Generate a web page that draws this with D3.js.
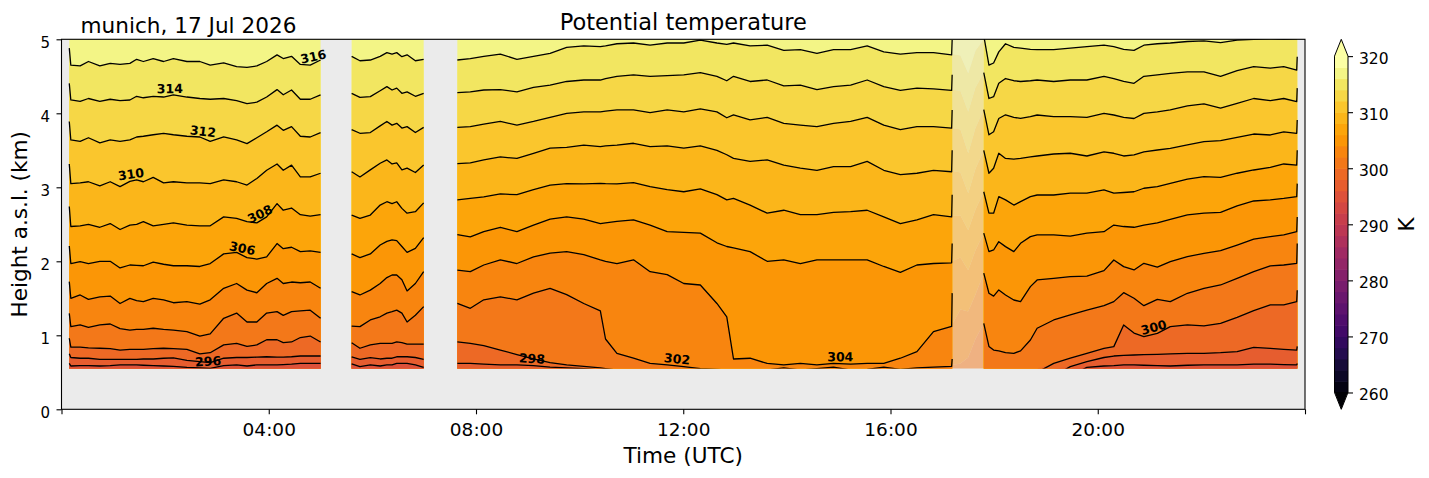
<!DOCTYPE html>
<html><head><meta charset="utf-8">
<script src="https://cdn.jsdelivr.net/npm/d3@7"></script>
<style>
body{margin:0;background:#fff}
svg{display:block}
text{font-family:"DejaVu Sans",sans-serif;fill:#000}
</style>
</head><body>
<svg id="chart" width="1429" height="478"></svg>
<script>
// ================= DATA =================
const station = "munich";
const dateLabel = "17 Jul 2026";
const titleText = "Potential temperature";
const xLabel = "Time (UTC)";
const yLabel = "Height a.s.l. (km)";
const unitLabel = "K";

// contour levels (K) whose isentrope heights (km) are listed below
const levels = [296, 298, 300, 302, 304, 306, 308, 310, 312, 314, 316];
// colour levels of the filled contours and colour bar
const cbarLevels = [260,262,264,266,268,270,272,274,276,278,280,282,284,286,288,290,292,294,296,298,300,302,304,306,308,310,312,314,316,318,320];
const cbarTicks = [260, 270, 280, 290, 300, 310, 320];
const xTickHours = [0, 4, 8, 12, 16, 20, 24];
const yTicks = [0, 1, 2, 3, 4, 5];
const gateBottom = 0.55;   // lowest valid retrieval height (km)

// profile blocks: number of time samples per block, and quality flag
const segLengths = [27, 11, 34, 5, 28];
const segFlagged = [false, false, false, true, false];

// sample times (hours UTC)
const times = [
  0.15,0.18,0.36,0.52,0.74,0.94,1.13,1.32,1.45,1.58,1.77,1.97,2.16,2.42,2.67,2.87,3.13,3.38,3.58,3.77,3.96,4.16,4.28,4.44,4.61,4.80,5.00,
  5.60,5.76,5.96,6.15,6.28,6.38,6.47,6.57,6.67,6.83,6.99,
  7.64,7.89,8.15,8.47,8.79,9.11,9.43,9.75,10.08,10.40,10.50,10.72,11.04,11.36,11.69,12.01,12.33,12.65,12.84,12.97,13.29,13.62,13.94,14.26,14.58,14.90,15.23,15.55,15.87,16.19,16.51,16.83,17.18,17.19,
  17.19,17.35,17.50,17.64,17.80,
  17.80,17.90,17.99,18.09,18.22,18.38,18.51,18.70,18.83,19.15,19.47,19.79,20.12,20.31,20.50,20.70,20.89,21.15,21.40,21.73,22.05,22.37,22.69,23.01,23.33,23.59,23.84,23.85
];

// isentrope heights (km); null = below the lowest gate
const h316 = [
  4.88,4.65,4.64,4.70,4.64,4.675,4.66,4.675,4.73,4.70,4.74,4.70,4.74,4.70,4.70,4.65,4.68,4.63,4.62,4.64,4.70,4.79,4.74,4.77,4.66,4.65,4.72,
  4.77,4.71,4.72,4.77,4.82,4.80,4.82,4.765,4.79,4.71,4.73,
  4.72,4.74,4.77,4.80,4.73,4.77,4.81,4.89,4.91,4.90,4.91,4.94,4.95,4.92,4.95,4.95,4.99,4.95,4.93,4.95,4.91,4.92,4.85,4.86,4.81,4.86,4.86,4.91,4.83,4.80,4.82,4.82,4.79,4.99,
  4.80,4.78,4.54,4.85,5.05,
  5.05,4.65,4.68,4.83,4.94,4.89,4.88,4.865,4.86,4.86,4.88,4.90,4.92,4.90,4.865,4.85,4.92,4.94,4.95,4.97,4.98,4.955,4.99,5.0,5.01,5.0,5.01,5.1
];
const h314 = [
  4.405,4.18,4.16,4.20,4.16,4.19,4.17,4.18,4.23,4.21,4.23,4.22,4.25,4.22,4.20,4.19,4.20,4.17,4.13,4.15,4.22,4.32,4.25,4.315,4.19,4.19,4.25,
  4.27,4.215,4.225,4.305,4.36,4.315,4.34,4.27,4.29,4.23,4.27,
  4.28,4.29,4.315,4.32,4.29,4.35,4.38,4.43,4.45,4.45,4.47,4.50,4.52,4.50,4.51,4.52,4.55,4.50,4.44,4.50,4.43,4.45,4.37,4.38,4.32,4.36,4.38,4.45,4.36,4.31,4.34,4.33,4.31,4.52,
  4.32,4.30,4.02,4.35,4.55,
  4.55,4.20,4.225,4.405,4.47,4.44,4.43,4.44,4.45,4.43,4.45,4.45,4.50,4.47,4.43,4.405,4.50,4.52,4.54,4.56,4.56,4.50,4.576,4.63,4.61,4.63,4.585,4.765
];
const h312 = [
  3.89,3.64,3.62,3.67,3.60,3.64,3.62,3.64,3.68,3.69,3.71,3.73,3.71,3.69,3.68,3.62,3.68,3.64,3.59,3.67,3.75,3.84,3.77,3.82,3.69,3.68,3.74,
  3.78,3.73,3.74,3.83,3.89,3.84,3.865,3.80,3.82,3.74,3.81,
  3.81,3.82,3.855,3.89,3.84,3.89,3.946,4.0,4.02,4.02,4.03,4.045,4.045,4.01,4.045,4.02,4.06,4.02,3.94,3.98,3.91,3.946,3.865,3.84,3.82,3.865,3.89,3.946,3.84,3.78,3.82,3.82,3.80,4.045,
  3.80,3.78,3.46,3.80,4.05,
  4.05,3.71,3.75,3.93,3.98,3.946,3.93,3.955,3.977,3.955,3.955,3.946,4.0,3.977,3.946,3.93,4.0,4.02,4.045,4.10,4.126,4.07,4.135,4.20,4.17,4.20,4.157,4.34
];
const h310 = [
  3.315,3.05,3.06,3.075,3.02,3.075,3.01,3.08,3.10,3.075,3.135,3.06,3.075,3.06,3.06,3.05,3.10,3.075,3.03,3.12,3.23,3.315,3.23,3.30,3.14,3.14,3.19,
  3.21,3.14,3.235,3.325,3.37,3.315,3.33,3.235,3.26,3.20,3.30,
  3.32,3.33,3.37,3.41,3.39,3.46,3.53,3.54,3.57,3.55,3.56,3.57,3.595,3.55,3.56,3.53,3.56,3.50,3.44,3.39,3.35,3.37,3.30,3.26,3.23,3.28,3.28,3.35,3.23,3.17,3.19,3.23,3.21,3.50,
  3.22,3.20,2.92,3.25,3.50,
  3.50,3.19,3.257,3.46,3.39,3.38,3.39,3.41,3.423,3.45,3.46,3.423,3.48,3.46,3.423,3.437,3.48,3.504,3.527,3.572,3.617,3.63,3.675,3.72,3.707,3.75,3.73,3.91
];
const h308 = [
  2.74,2.47,2.48,2.50,2.46,2.51,2.43,2.49,2.50,2.535,2.48,2.50,2.52,2.49,2.48,2.48,2.60,2.58,2.535,2.52,2.60,2.78,2.69,2.72,2.63,2.61,2.63,
  2.625,2.58,2.625,2.76,2.805,2.78,2.805,2.715,2.65,2.67,2.79,
  2.83,2.85,2.87,2.91,2.90,2.97,3.03,3.05,3.045,3.054,3.05,3.045,3.063,3.01,2.97,2.94,2.98,2.90,2.83,2.85,2.76,2.65,2.69,2.63,2.63,2.66,2.67,2.69,2.60,2.51,2.56,2.63,2.60,2.90,
  2.62,2.62,2.42,2.70,2.94,
  2.94,2.65,2.65,2.874,2.83,2.76,2.806,2.874,2.896,2.896,2.92,2.92,2.964,2.92,2.93,2.94,2.987,3.01,3.054,3.11,3.144,3.135,3.19,3.234,3.27,3.315,3.30,3.50
];
const h306 = [
  2.207,1.97,1.995,1.97,2.00,2.00,1.91,1.95,1.945,1.94,1.99,1.96,1.94,1.94,1.93,1.97,2.10,2.12,2.05,2.03,2.06,2.24,2.17,2.19,2.13,2.14,2.12,
  2.10,2.05,2.10,2.22,2.27,2.29,2.28,2.20,2.12,2.175,2.32,
  2.36,2.33,2.40,2.46,2.40,2.49,2.57,2.60,2.57,2.51,2.52,2.54,2.56,2.49,2.40,2.39,2.38,2.25,2.20,2.18,2.13,2.00,2.02,1.97,2.02,2.02,2.02,2.02,1.93,1.85,1.95,1.97,1.98,2.24,
  2.00,2.05,1.88,2.15,2.38,
  2.38,2.13,2.153,2.265,2.198,2.13,2.243,2.333,2.356,2.356,2.34,2.38,2.40,2.49,2.47,2.46,2.49,2.52,2.567,2.626,2.65,2.66,2.75,2.815,2.83,2.85,2.874,3.05
];
const h304 = [
  1.725,1.50,1.545,1.486,1.52,1.53,1.43,1.50,1.47,1.455,1.50,1.48,1.44,1.455,1.42,1.48,1.635,1.70,1.61,1.575,1.70,1.77,1.70,1.72,1.71,1.72,1.635,
  1.59,1.545,1.61,1.70,1.78,1.815,1.815,1.75,1.60,1.70,1.86,
  1.88,1.86,1.95,2.02,1.97,2.06,2.11,2.13,2.09,2.02,2.0,1.97,2.02,1.86,1.82,1.70,1.68,1.43,1.25,0.68,0.69,0.62,0.60,0.62,0.60,0.62,0.61,0.62,0.62,0.69,0.78,1.05,1.12,1.57,
  1.15,1.35,1.32,1.55,1.84,
  1.84,1.568,1.53,1.613,1.545,1.477,1.455,1.658,1.748,1.77,1.793,1.80,1.874,2.018,1.928,1.883,1.973,1.92,1.995,2.063,2.108,2.144,2.22,2.30,2.333,2.356,2.40,2.60
];
const h302 = [
  1.297,1.117,1.14,1.108,1.14,1.153,1.09,1.07,1.08,1.08,1.095,1.08,1.07,1.05,0.99,1.02,1.23,1.30,1.18,1.18,1.30,1.32,1.27,1.32,1.33,1.34,1.23,
  1.125,1.117,1.207,1.25,1.30,1.32,1.34,1.30,1.18,1.27,1.387,
  1.43,1.365,1.48,1.52,1.48,1.57,1.635,1.55,1.43,1.33,0.95,0.757,0.69,0.62,0.60,0.577,0.55,0.54,0.53,0.53,0.52,0.53,0.56,0.53,0.55,0.57,0.53,0.54,0.57,0.54,0.56,0.57,0.58,0.68,
  0.60,0.62,0.70,0.95,1.16,
  1.16,0.85,0.80,0.79,0.766,0.757,0.79,0.937,1.095,1.207,1.275,1.34,1.40,1.455,1.576,1.50,1.40,1.486,1.455,1.568,1.635,1.68,1.77,1.86,1.937,1.95,1.973,2.24
];
const h300 = [
  0.96,0.84,0.84,0.83,0.825,0.82,0.80,0.81,0.81,0.81,0.82,0.825,0.82,0.81,0.75,0.765,0.87,0.89,0.85,0.87,0.94,0.94,0.90,0.91,0.97,0.99,0.91,
  0.90,0.825,0.87,0.89,0.89,0.89,0.91,0.90,0.88,0.88,0.88,
  0.91,0.89,0.86,0.80,0.74,0.68,0.63,0.60,0.58,0.56,0.55,0.53,0.50,0.48,null,null,null,null,null,null,null,null,null,null,null,null,null,null,null,null,null,null,null,null,
  null,null,null,null,null,
  null,null,null,null,null,null,null,null,0.50,0.62,0.69,0.757,0.824,0.847,1.14,1.03,0.982,1.027,1.117,1.14,1.126,1.162,1.243,1.333,1.41,1.41,1.455,1.61
];
const h298 = [
  0.75,0.70,0.69,0.69,0.676,0.676,0.676,0.676,0.676,0.68,0.68,0.69,0.695,0.66,0.645,0.63,0.69,0.70,0.70,0.705,0.71,0.705,0.705,0.71,0.72,0.72,0.72,
  0.71,0.676,0.697,0.68,0.69,0.69,0.71,0.71,0.71,0.70,0.676,
  0.62,0.62,0.61,0.60,0.60,0.59,0.57,0.56,0.55,0.53,0.52,0.50,null,null,null,null,null,null,null,null,null,null,null,null,null,null,null,null,null,null,null,null,null,null,
  null,null,null,null,null,
  null,null,null,null,null,null,null,null,null,null,0.576,0.644,0.70,0.72,0.73,0.734,0.738,0.743,0.748,0.757,0.757,0.766,0.78,0.838,0.824,0.81,0.80,0.85
];
const h296 = [
  0.62,0.585,0.59,0.59,0.585,0.59,0.60,0.60,0.60,0.595,0.59,0.585,0.58,0.567,0.56,0.554,0.59,0.60,0.585,0.60,0.60,0.60,0.605,0.61,0.62,0.62,0.62,
  0.614,0.577,0.60,0.585,0.60,0.60,0.62,0.62,0.62,0.60,0.567,
  null,null,null,null,null,null,null,null,null,null,null,null,null,null,null,null,null,null,null,null,null,null,null,null,null,null,null,null,null,null,null,null,null,null,
  null,null,null,null,null,
  null,null,null,null,null,null,null,null,null,null,null,0.567,0.585,0.59,0.60,0.60,0.595,0.59,0.585,0.595,0.60,0.60,0.60,0.61,0.61,0.605,0.60,0.62
];

// inline contour labels: [level, time (h)]
const contourLabels = [[316,4.86],[314,2.09],[312,2.73],[310,1.34],[308,3.83],[306,3.49],[296,2.83],[298,9.08],[302,11.88],[304,15.03],[300,21.08]];

// ================= DRAWING =================
const levelSeries = {296:h296,298:h298,300:h300,302:h302,304:h304,306:h306,308:h308,310:h310,312:h312,314:h314,316:h316};
const svg = d3.select("#chart");
const X0 = 61.5, X1 = 1305, Y0 = 409.3, Y1 = 39.3;
const x = d3.scaleLinear().domain([0, 24]).range([X0, X1]);
const y = d3.scaleLinear().domain([0, 5]).range([Y0, Y1]);
const cMin = cbarLevels[0], cMax = cbarLevels[cbarLevels.length - 1];
const step = cbarLevels[1] - cbarLevels[0];
// colour of the filled band whose upper boundary is `upper`
const bandColor = upper => d3.interpolateInferno(Math.max(0, Math.min(1, (upper - cMin) / (cMax - cMin))));
const hTop = y.domain()[1];

let s0 = 0;
const segments = segLengths.map((n, k) => { const idx = d3.range(s0, s0 + n); s0 += n; return {idx, flagged: segFlagged[k]}; });
const hVal = (L, i) => { const v = levelSeries[L][i]; return v == null ? gateBottom - 0.1 : v; };
const clampH = v => Math.max(gateBottom, Math.min(hTop, v));

const defs = svg.append("defs");
defs.append("clipPath").attr("id", "lineClip").append("rect")
  .attr("x", X0).attr("y", y(hTop)).attr("width", X1 - X0).attr("height", y(gateBottom) - y(hTop));

// axes background
svg.append("rect").attr("x", X0).attr("y", Y1).attr("width", X1 - X0).attr("height", Y0 - Y1).attr("fill", "#ebebeb");

const fillG = svg.append("g");
segments.forEach(seg => {
  const ax = i => x(times[i]);
  if (!seg.flagged) {
    fillG.append("path").datum(seg.idx)
      .attr("d", d3.area().x(ax).y0(y(gateBottom)).y1(y(hTop)))
      .attr("fill", bandColor(levels[levels.length - 1] + step));
    for (let k = levels.length - 1; k >= 0; k--) {
      const L = levels[k];
      fillG.append("path").datum(seg.idx)
        .attr("d", d3.area().x(ax).y0(y(gateBottom)).y1(i => y(clampH(hVal(L, i)))))
        .attr("fill", bandColor(L));
    }
  } else {
    const bounds = [() => gateBottom, ...levels.map(L => i => clampH(hVal(L, i))), () => hTop];
    for (let b = 0; b < bounds.length - 1; b++) {
      fillG.append("path").datum(seg.idx)
        .attr("d", d3.area().x(ax).y0(i => y(bounds[b](i))).y1(i => y(bounds[b + 1](i))))
        .attr("fill", bandColor(levels[0] + step * b))
        .attr("fill-opacity", 0.5);
    }
  }
});

// contour lines
const lineG = svg.append("g").attr("clip-path", "url(#lineClip)");
segments.filter(s => !s.flagged).forEach(seg => {
  levels.forEach(L => {
    lineG.append("path").datum(seg.idx)
      .attr("d", d3.line().x(i => x(times[i])).y(i => y(hVal(L, i))))
      .attr("fill", "none").attr("stroke", "#000").attr("stroke-width", 1.3)
      .attr("stroke-linejoin", "round");
  });
});

// contour labels
function hAt(L, seg, t) {
  const ts = seg.idx.map(i => times[i]);
  const hs = seg.idx.map(i => hVal(L, i));
  t = Math.max(ts[0], Math.min(ts[ts.length - 1], t));
  for (let j = 0; j < ts.length - 1; j++) {
    if (t >= ts[j] && t <= ts[j + 1]) {
      const f = ts[j + 1] === ts[j] ? 0 : (t - ts[j]) / (ts[j + 1] - ts[j]);
      return hs[j] + f * (hs[j + 1] - hs[j]);
    }
  }
  return hs[hs.length - 1];
}
const labG = svg.append("g");
contourLabels.forEach(([L, t]) => {
  const seg = segments.find(s => !s.flagged && t >= times[s.idx[0]] && t <= times[s.idx[s.idx.length - 1]]);
  if (!seg) return;
  const hc = Math.max(gateBottom, hAt(L, seg, t));
  const ta = Math.max(times[seg.idx[0]], t - 0.25), tb = Math.min(times[seg.idx[seg.idx.length - 1]], t + 0.25);
  const ya = y(Math.max(gateBottom, hAt(L, seg, ta))), yb = y(Math.max(gateBottom, hAt(L, seg, tb)));
  let ang = Math.atan2(yb - ya, x(tb) - x(ta)) * 180 / Math.PI;
  ang = Math.max(-35, Math.min(35, ang));
  labG.append("text")
    .attr("transform", `translate(${x(t)},${y(hc) - 7}) rotate(${ang})`)
    .attr("text-anchor", "middle").attr("dominant-baseline", "central")
    .attr("font-size", "12.5px").attr("font-weight", "bold")
    .text(L);
});

// axes
const fmtHour = h => (h > 0 && h < 24) ? String(h).padStart(2, "0") + ":00" : "";
const xAxisG = svg.append("g").attr("transform", `translate(0,${Y0})`)
  .call(d3.axisBottom(x).tickValues(xTickHours).tickSize(5).tickSizeOuter(0).tickFormat(fmtHour));
xAxisG.select(".domain").remove();
xAxisG.selectAll(".tick line").attr("stroke", "#000").attr("stroke-width", 1.1);
xAxisG.selectAll(".tick text").attr("y", 26.7).attr("dy", null)
  .attr("font-size", "18.5px").attr("font-family", "DejaVu Sans");

const yAxisG = svg.append("g").attr("transform", `translate(${X0},0)`)
  .call(d3.axisLeft(y).tickValues(yTicks).tickSize(5).tickSizeOuter(0).tickFormat(d3.format("d")));
yAxisG.select(".domain").remove();
yAxisG.selectAll(".tick line").attr("stroke", "#000").attr("stroke-width", 1.1);
yAxisG.selectAll(".tick text").attr("x", -11.5).attr("y", 8).attr("dy", null)
  .attr("font-size", "15px").attr("font-family", "DejaVu Sans");

// frame
svg.append("rect").attr("x", X0).attr("y", Y1).attr("width", X1 - X0).attr("height", Y0 - Y1)
  .attr("fill", "none").attr("stroke", "#000").attr("stroke-width", 1.1);

// titles
svg.append("text").attr("x", (X0 + X1) / 2).attr("y", 29.5).attr("text-anchor", "middle")
  .attr("font-size", "22.5px").text(titleText);
svg.append("text").attr("x", 80.5).attr("y", 33.4).attr("font-size", "21.6px")
  .text(`${station}, ${dateLabel}`);
svg.append("text").attr("x", (X0 + X1) / 2).attr("y", 463).attr("text-anchor", "middle")
  .attr("font-size", "21.6px").text(xLabel);
svg.append("text").attr("transform", `translate(27,${(Y0 + Y1) / 2}) rotate(-90)`)
  .attr("text-anchor", "middle").attr("font-size", "21.6px").text(yLabel);

// colour bar
const CB0 = 1334.5, CB1 = 1348;
const extLen = (Y0 - Y1) / 1.1 * 0.05;
const yc = d3.scaleLinear().domain([cMin, cMax]).range([Y0 - extLen, Y1 + extLen]);
const cbG = svg.append("g");
for (let k = 0; k < cbarLevels.length - 1; k++) {
  const a = cbarLevels[k], b = cbarLevels[k + 1];
  cbG.append("rect").attr("x", CB0).attr("width", CB1 - CB0)
    .attr("y", yc(b)).attr("height", yc(a) - yc(b) + 0.6)
    .attr("fill", bandColor(b));
}
const cMid = (CB0 + CB1) / 2;
cbG.append("path").attr("d", `M${CB0},${yc(cMax) + 0.5}L${cMid},${Y1}L${CB1},${yc(cMax) + 0.5}Z`).attr("fill", bandColor(cMax + step));
cbG.append("path").attr("d", `M${CB0},${yc(cMin) - 0.5}L${cMid},${Y0}L${CB1},${yc(cMin) - 0.5}Z`).attr("fill", bandColor(cMin));
cbG.append("path")
  .attr("d", `M${CB0},${yc(cMax)}L${cMid},${Y1}L${CB1},${yc(cMax)}L${CB1},${yc(cMin)}L${cMid},${Y0}L${CB0},${yc(cMin)}Z`)
  .attr("fill", "none").attr("stroke", "#000").attr("stroke-width", 1);
const cbAxisG = svg.append("g").attr("transform", `translate(${CB1},0)`)
  .call(d3.axisRight(yc).tickValues(cbarTicks).tickSize(5).tickSizeOuter(0).tickFormat(d3.format("d")));
cbAxisG.select(".domain").remove();
cbAxisG.selectAll(".tick line").attr("stroke", "#000").attr("stroke-width", 1.1);
cbAxisG.selectAll(".tick text").attr("x", 11).attr("y", 7.5).attr("dy", null)
  .attr("font-size", "15.5px").attr("font-family", "DejaVu Sans");
svg.append("text").attr("transform", `translate(1414,${(Y0 + Y1) / 2}) rotate(-90)`)
  .attr("text-anchor", "middle").attr("font-size", "21.6px").text(unitLabel);
</script>
</body></html>
